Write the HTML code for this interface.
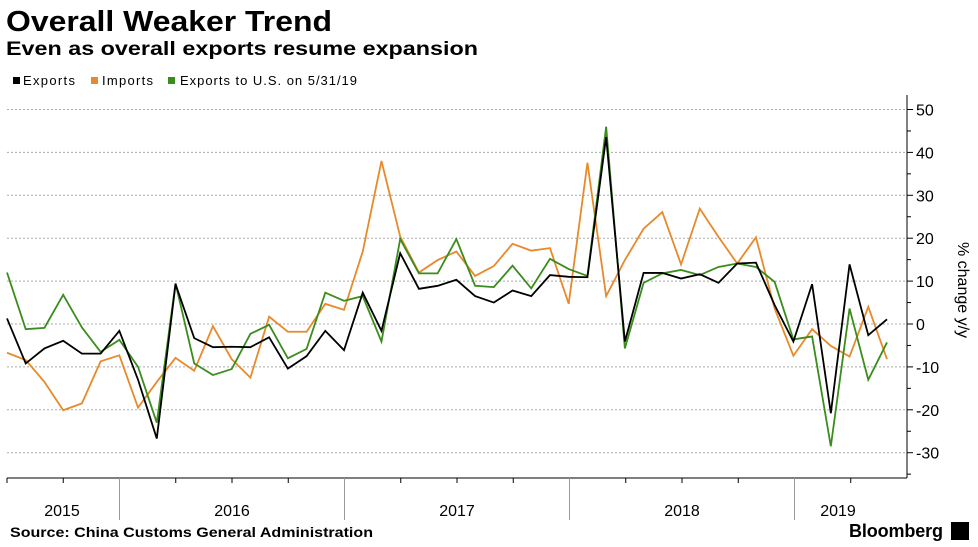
<!DOCTYPE html>
<html><head><meta charset="utf-8"><style>
body{margin:0;background:#fff;width:978px;height:547px;overflow:hidden;font-family:"Liberation Sans",sans-serif}
svg{position:absolute;left:0;top:0}
</style></head><body>
<svg id="c" width="978" height="547">
<text x="6" y="31" font-size="29" font-weight="bold" fill="#000" textLength="326" lengthAdjust="spacingAndGlyphs">Overall Weaker Trend</text>
<text x="6" y="55" font-size="19" font-weight="bold" fill="#000" textLength="472" lengthAdjust="spacingAndGlyphs">Even as overall exports resume expansion</text>
<g font-size="13">
<rect x="13" y="77" width="7" height="7" fill="#000"/><text x="23" y="85" textLength="52">Exports</text>
<rect x="91" y="77" width="7" height="7" fill="#e8892b"/><text x="102" y="85" textLength="51">Imports</text>
<rect x="168" y="77" width="7" height="7" fill="#3a8c1c"/><text x="180" y="85" textLength="177">Exports to U.S. on 5/31/19</text>
</g>
<text x="958" y="290" font-size="16" fill="#000" transform="rotate(90 958 290)" text-anchor="middle">% change y/y</text>
<text x="10" y="537" font-size="13.5" font-weight="bold" textLength="363" lengthAdjust="spacingAndGlyphs">Source: China Customs General Administration</text>
<text x="849" y="537" font-size="18" font-weight="bold" textLength="94">Bloomberg</text>
<rect x="951" y="522" width="18" height="18" fill="#000"/>
<g id="g"></g>
</svg>
<script>
const exportsV=[1.3,-9.2,-5.7,-3.9,-6.9,-6.9,-1.6,-13,-26.7,9.3,-3.3,-5.4,-5.3,-5.4,-3.1,-10.4,-7.5,-1.6,-6.1,7.3,-1.6,16.5,8.2,8.9,10.3,6.5,5,7.8,6.5,11.4,11,10.9,43.6,-4.1,11.9,11.9,10.6,11.6,9.6,14.1,14.3,4.4,-4.1,9.3,-20.8,13.9,-2.6,1.1];
const importsV=[-6.7,-8.4,-13.5,-20.1,-18.5,-8.7,-7.3,-19.5,-13.5,-7.9,-10.9,-0.5,-8.2,-12.5,1.7,-1.8,-1.8,4.7,3.3,16.9,38,20.4,12,14.9,16.9,11.2,13.5,18.7,17.1,17.7,4.7,37.6,6.5,14.9,22.2,26.1,13.9,26.9,20.3,14.1,20.2,3.6,-7.4,-1.2,-5.1,-7.6,4,-8.2];
const usV=[12,-1.2,-0.9,6.8,-0.8,-6.5,-3.7,-10,-23,9.5,-9.2,-11.9,-10.5,-2.3,-0.2,-8,-5.8,7.3,5.4,6.5,-4.1,19.8,11.8,11.8,19.8,8.9,8.6,13.6,8.3,15.2,12.8,11.2,46,-5.7,9.6,11.8,12.6,11.4,13.3,14.1,13.3,9.8,-3.6,-2.9,-28.5,3.6,-13,-4.3];
const yTicks=[50,40,30,20,10,0,-10,-20,-30];
const years=["2015","2016","2017","2018","2019"];
const yearCenters=[62,232,457,682,838];
const NS="http://www.w3.org/2000/svg";
const g=document.getElementById('g');
const X=i=>7+i*(880/47);
const Y=v=>324-v*4.29;
function mk(t,a){const e=document.createElementNS(NS,t);for(const k in a)e.setAttribute(k,a[k]);g.appendChild(e);return e;}
yTicks.forEach(v=>{
 const l=mk('line',{x1:7,x2:907,y1:Y(v),y2:Y(v),stroke:'#aaa','stroke-dasharray':'2,2','stroke-width':1});
 
 
 const tk=mk('line',{x1:907,x2:913,y1:Y(v),y2:Y(v),stroke:'#000'});
 
 
 const t=mk('text',{x:916,y:Y(v)+6,'font-size':16});
 t.textContent=v;
 
 
});
for(let v=-35;v<=45;v+=10){const m=mk('line',{x1:907,x2:911,y1:Y(v),y2:Y(v),stroke:'#000'});
 
 }
const ya=mk('line',{x1:907,x2:907,y1:95,y2:478,stroke:'#000'});


const xa=mk('line',{x1:7,x2:907,y1:478,y2:478,stroke:'#000'});


for(let k=0;k<16;k++){const x=7+k*56.25;const major=(k%4===2);
 const t=mk('line',{x1:x,x2:x,y1:478,y2:major?520:483,stroke:major?'#999':'#000'});
 
 }
years.forEach((y,i)=>{const t=mk('text',{x:yearCenters[i],y:516,'font-size':16,'text-anchor':'middle'});t.textContent=y;
 
 });
function line(arr,col,name){const p=mk('polyline',{points:arr.map((v,i)=>X(i)+','+Y(v)).join(' '),fill:'none',stroke:col,'stroke-width':1.8,'stroke-linejoin':'miter'});
 
 }
line(importsV,'#e8892b','imports-line');
line(usV,'#3a8c1c','exports-us-line');
line(exportsV,'#000','exports-line');
</script>
</body></html>
